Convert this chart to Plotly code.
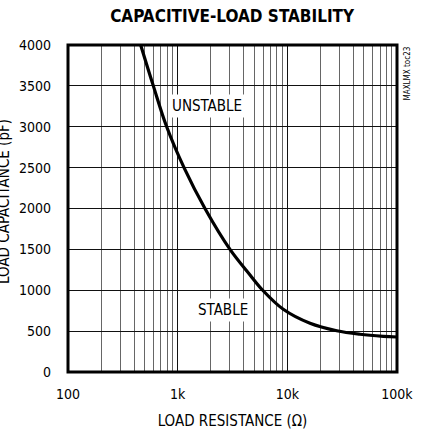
import plotly.graph_objects as go

# Data
load_resistance = [460, 600, 794, 1143, 1774, 3000, 4570, 5960, 9180, 16100, 28200, 46000, 75000, 100000]
load_capacitance = [4000, 3500, 3000, 2500, 2000, 1500, 1187, 1000, 767, 596, 505, 462, 437, 428]

x_tickvals = [100, 1000, 10000, 100000]
x_ticktext = ["100", "1k", "10k", "100k"]
x_minor = [m * 10 ** d for d in (2, 3, 4) for m in range(2, 10)]
y_tickvals = list(range(0, 4001, 500))

FONT = "DejaVu Sans Condensed, Liberation Sans Narrow, Arial Narrow, sans-serif"

# plot-area pixel geometry (for label placement only)
L, R, T, B = 68, 397, 45, 372


def px_to_data(px, py):
    lx = 2 + (px - L) / ((R - L) / 3)
    vy = (B - py) / (B - T) * 4000
    return lx, vy


fig = go.Figure()
fig.add_trace(go.Scatter(
    x=load_resistance, y=load_capacitance, mode="lines",
    line=dict(color="black", width=3.2, shape="spline", smoothing=1.0),
    hoverinfo="skip", showlegend=False,
))

ux, uy = px_to_data(207, 106)
sx, sy = px_to_data(223, 310)

fig.update_layout(
    width=438, height=432,
    margin=dict(l=L, r=438 - R, t=T, b=432 - B),
    paper_bgcolor="white", plot_bgcolor="white",
    font=dict(family=FONT, color="black", size=14),
    title=dict(text="<b>CAPACITIVE-LOAD STABILITY</b>", x=0.53, xanchor="center",
               y=0.962, yanchor="middle", font=dict(family=FONT, size=17, color="black")),
    xaxis=dict(type="log", range=[2, 5], tickvals=x_tickvals, ticktext=x_ticktext,
               showgrid=True, gridcolor="#111", gridwidth=1, ticks="", automargin=False,
               ticklabelstandoff=12, zeroline=False,
               minor=dict(tickvals=x_minor, showgrid=True, gridcolor="#666", gridwidth=1, ticks=""),
               title=dict(text="LOAD RESISTANCE (Ω)", font=dict(size=15), standoff=14)),
    yaxis=dict(range=[0, 4000], tickvals=y_tickvals, showgrid=True, gridcolor="#111",
               gridwidth=1, ticks="", ticklabelstandoff=16, zeroline=False, automargin=False),
    shapes=[dict(type="rect", xref="paper", yref="paper", x0=0, x1=1, y0=0, y1=1,
                 line=dict(color="black", width=3), layer="above")],
    annotations=[
        dict(text="UNSTABLE", x=ux, y=uy, xref="x", yref="y", showarrow=False,
             font=dict(size=15), bgcolor="white", borderpad=2),
        dict(text="STABLE", x=sx, y=sy, xref="x", yref="y", showarrow=False,
             font=dict(size=15), bgcolor="white", borderpad=2),
        dict(text="LOAD CAPACITANCE (pF)", textangle=-90, x=(4 - L) / (R - L), y=0.52,
             xref="paper", yref="paper", xanchor="center", yanchor="middle",
             showarrow=False, font=dict(size=15)),
        dict(text="MAXLMX toc23", textangle=-90, x=1.0, y=1.0, xref="paper", yref="paper",
             xanchor="left", yanchor="top", xshift=3, showarrow=False,
             font=dict(size=8)),
    ],
)

fig.write_html("out.html", config={"displayModeBar": False, "staticPlot": True},
               post_script="document.body.style.margin='0';")
